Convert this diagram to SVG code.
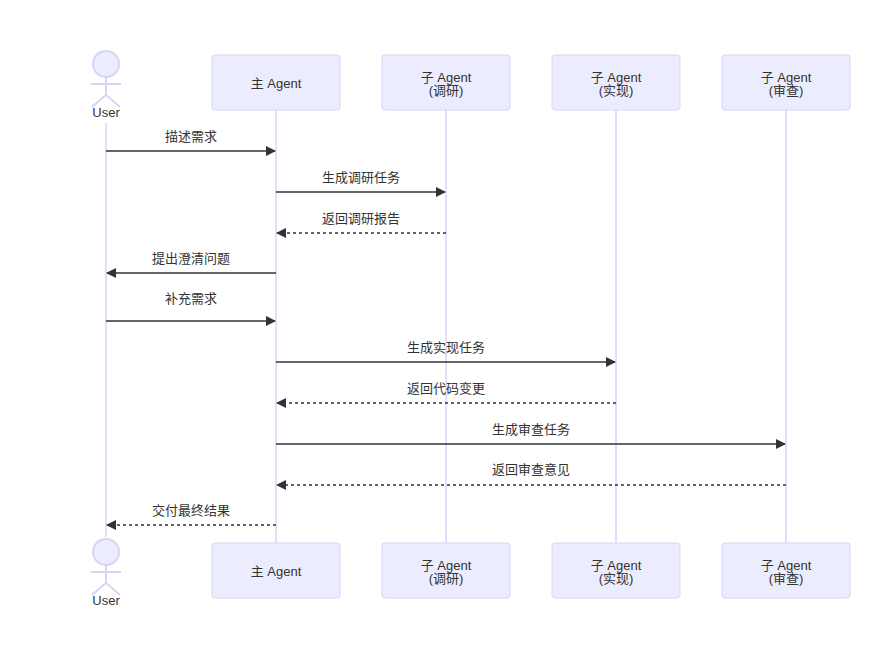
<svg xmlns="http://www.w3.org/2000/svg" width="893" height="655" viewBox="0 0 893 655">
<style>
.box{fill:#ECECFF;stroke:#D8D4F5;stroke-width:1}
.life{stroke:#D8D4F5;stroke-width:1.5}
.actor{fill:#ECECFF;stroke:#D8D4F5;stroke-width:2}
.t{font-family:"Liberation Sans","Noto Sans CJK SC",sans-serif;font-size:13px;fill:#333;text-anchor:middle}
.m{font-family:"Liberation Sans","Noto Sans CJK SC",sans-serif;font-size:13px;fill:#333;text-anchor:middle}
.msg{stroke:#333;stroke-width:1.3;fill:none;marker-end:url(#ah)}
.dash{stroke-dasharray:3,3}
</style>
<defs>
<marker id="ah" markerWidth="10" markerHeight="10" refX="9" refY="5" orient="auto" markerUnits="userSpaceOnUse"><path d="M0,0 L10,5 L0,10 z" fill="#333"/></marker>
</defs>
<g id="lifelines">
<line class="life" x1="106" y1="123" x2="106" y2="537"/>
<line class="life" x1="276" y1="110" x2="276" y2="543"/>
<line class="life" x1="446" y1="110" x2="446" y2="543"/>
<line class="life" x1="616" y1="110" x2="616" y2="543"/>
<line class="life" x1="786" y1="110" x2="786" y2="543"/>
</g>
<g id="user-top">
<circle class="actor" cx="106" cy="64" r="13"/>
<line class="actor" x1="106" y1="77" x2="106" y2="95"/>
<line class="actor" x1="91" y1="84" x2="121" y2="84"/>
<line class="actor" x1="106" y1="95" x2="92" y2="107"/>
<line class="actor" x1="106" y1="95" x2="120" y2="107"/>
<text class="t" x="106" y="117">User</text>
</g>
<g id="user-bottom">
<circle class="actor" cx="106" cy="552" r="13"/>
<line class="actor" x1="106" y1="565" x2="106" y2="583"/>
<line class="actor" x1="91" y1="572" x2="121" y2="572"/>
<line class="actor" x1="106" y1="583" x2="92" y2="595"/>
<line class="actor" x1="106" y1="583" x2="120" y2="595"/>
<text class="t" x="106" y="605">User</text>
</g>
<g id="main-top"><rect class="box" x="212" y="55" width="128" height="55" rx="3"/><text class="t" x="276" y="88">主 Agent</text></g>
<g id="research-top"><rect class="box" x="382" y="55" width="128" height="55" rx="3"/><text class="t" x="446" y="82">子 Agent</text><text class="t" x="446" y="95">(调研)</text></g>
<g id="impl-top"><rect class="box" x="552" y="55" width="128" height="55" rx="3"/><text class="t" x="616" y="82">子 Agent</text><text class="t" x="616" y="95">(实现)</text></g>
<g id="review-top"><rect class="box" x="722" y="55" width="128" height="55" rx="3"/><text class="t" x="786" y="82">子 Agent</text><text class="t" x="786" y="95">(审查)</text></g>
<g id="main-bottom"><rect class="box" x="212" y="543" width="128" height="55" rx="3"/><text class="t" x="276" y="576">主 Agent</text></g>
<g id="research-bottom"><rect class="box" x="382" y="543" width="128" height="55" rx="3"/><text class="t" x="446" y="570">子 Agent</text><text class="t" x="446" y="583">(调研)</text></g>
<g id="impl-bottom"><rect class="box" x="552" y="543" width="128" height="55" rx="3"/><text class="t" x="616" y="570">子 Agent</text><text class="t" x="616" y="583">(实现)</text></g>
<g id="review-bottom"><rect class="box" x="722" y="543" width="128" height="55" rx="3"/><text class="t" x="786" y="570">子 Agent</text><text class="t" x="786" y="583">(审查)</text></g>
<g id="connectors">
<line class="msg" x1="106" y1="151" x2="275" y2="151"/>
<line class="msg" x1="276" y1="192" x2="445" y2="192"/>
<line class="msg dash" x1="446" y1="233" x2="277" y2="233"/>
<line class="msg" x1="276" y1="273" x2="107" y2="273"/>
<line class="msg" x1="106" y1="321" x2="275" y2="321"/>
<line class="msg" x1="276" y1="362" x2="615" y2="362"/>
<line class="msg dash" x1="616" y1="403" x2="277" y2="403"/>
<line class="msg" x1="276" y1="444" x2="785" y2="444"/>
<line class="msg dash" x1="786" y1="485" x2="277" y2="485"/>
<line class="msg dash" x1="276" y1="525" x2="107" y2="525"/>
</g>
<g id="labels">
<text class="m" x="191" y="141">描述需求</text>
<text class="m" x="361" y="182">生成调研任务</text>
<text class="m" x="361" y="223">返回调研报告</text>
<text class="m" x="191" y="263">提出澄清问题</text>
<text class="m" x="191" y="303">补充需求</text>
<text class="m" x="446" y="352">生成实现任务</text>
<text class="m" x="446" y="393">返回代码变更</text>
<text class="m" x="531" y="434">生成审查任务</text>
<text class="m" x="531" y="474">返回审查意见</text>
<text class="m" x="191" y="515">交付最终结果</text>
</g>
</svg>
